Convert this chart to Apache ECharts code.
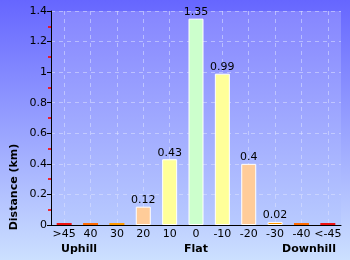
<!DOCTYPE html>
<html><head><meta charset="utf-8">
<script src="https://cdn.jsdelivr.net/npm/echarts@6/dist/echarts.min.js"></script>
<style>html,body{margin:0;padding:0;}#c{width:350px;height:260px;}</style>
</head><body><div id="c"></div>
<script>
const categories = ['>45','40','30','20','10','0','-10','-20','-30','-40','<-45'];
const distances = [0, 0, 0, 0.12, 0.43, 1.35, 0.99, 0.4, 0.02, 0, 0];
const barColors = ['#ee1111','#ff6a00','#ff9900','#ffcc99','#ffff99','#ccffcc','#ffff99','#ffcc99','#ff9900','#ff6a00','#ee1111'];
const groupLabels = ['Uphill','Flat','Downhill'];
const yTicks = [0, 1.4, 0.2];

const chart = echarts.init(document.getElementById('c'), null, {renderer:'canvas'});
const font = 'DejaVu Sans';
const gridLine = {color:'rgba(220,225,255,0.55)',type:[4,4],width:1};
chart.setOption({
  animation:false,
  backgroundColor:{type:'linear',x:0,y:0,x2:0,y2:1,colorStops:[{offset:0,color:'#6666ff'},{offset:1,color:'#cce0ff'}]},
  grid:{left:51,right:9,top:11,bottom:35,show:true,borderWidth:0,
    backgroundColor:{type:'linear',x:0,y:0,x2:0,y2:1,colorStops:[{offset:0,color:'#8686ff'},{offset:1,color:'#b8caff'}]}},
  xAxis:{type:'category',data:categories,boundaryGap:true,
    axisLine:{lineStyle:{color:'#000',width:1}},axisTick:{show:false},
    axisLabel:{color:'#000',fontFamily:font,fontSize:11,margin:4,interval:0},
    splitLine:{show:true,interval:0,alignWithLabel:true,lineStyle:gridLine}},
  yAxis:{type:'value',min:yTicks[0],max:yTicks[1],interval:yTicks[2],
      axisLine:{show:true,lineStyle:{color:'#000',width:1}},
      axisTick:{show:true,length:4,lineStyle:{color:'#000'}},
      minorTick:{show:true,splitNumber:2,length:3,lineStyle:{color:'#ff0000',width:1.6}},
      axisLabel:{color:'#000',fontFamily:font,fontSize:11,margin:4},
      splitLine:{show:true,lineStyle:gridLine}},
  graphic:[
    {type:'text',x:14,y:187,rotation:Math.PI/2,z:10,style:{text:'Distance (km)',font:'bold 11px '+font,fill:'#000',textAlign:'center',textVerticalAlign:'middle'}},
    {type:'text',x:79,y:249,z:10,style:{text:groupLabels[0],font:'bold 11px '+font,fill:'#000',textAlign:'center',textVerticalAlign:'middle'}},
    {type:'text',x:196,y:249,z:10,style:{text:groupLabels[1],font:'bold 11px '+font,fill:'#000',textAlign:'center',textVerticalAlign:'middle'}},
    {type:'text',x:309,y:249,z:10,style:{text:groupLabels[2],font:'bold 11px '+font,fill:'#000',textAlign:'center',textVerticalAlign:'middle'}}
  ],
  series:[
    {type:'bar',z:3,barWidth:15,barMinHeight:2,
      data:distances.map((v,i)=>({value:v,itemStyle:{color:barColors[i],borderColor:'#ffffff',borderWidth:v>0?1:0}})),
      label:{show:true,position:'top',distance:1,color:'#000',fontFamily:font,fontSize:11,
        formatter:p=>p.value>0?String(p.value):''}}
  ]
});
</script></body></html>
